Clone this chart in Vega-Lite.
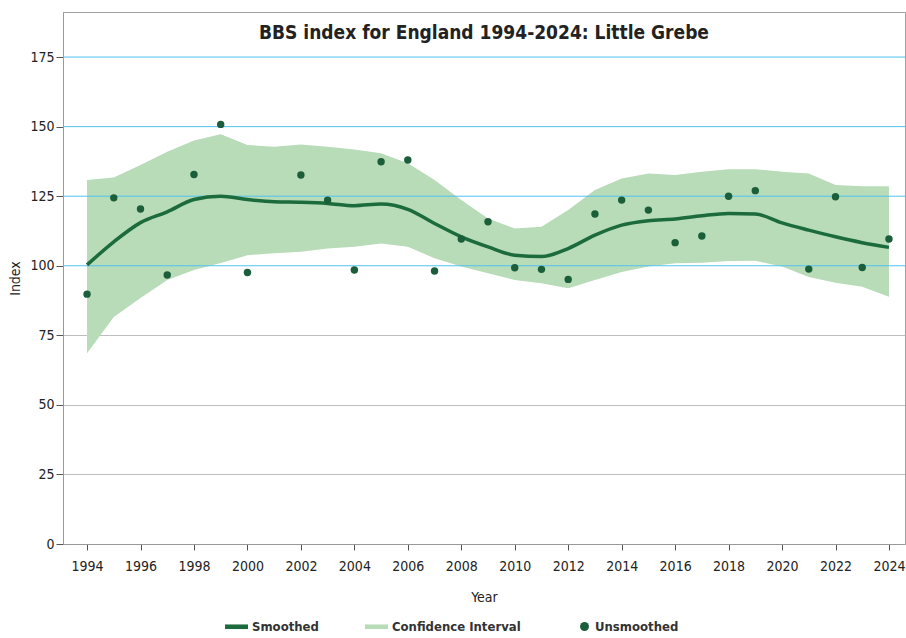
{
  "$schema": "https://vega.github.io/schema/vega-lite/v6.json",
  "width": 842,
  "height": 532,
  "autosize": {"type": "none"},
  "padding": {"left": 63, "top": 12, "right": 1, "bottom": 94},
  "background": "white",
  "title": {
    "text": "BBS index for England 1994-2024: Little Grebe",
    "offset": -31,
    "anchor": "middle",
    "font": "DejaVu Sans Condensed, DejaVu Sans",
    "fontSize": 19,
    "fontWeight": "bold",
    "color": "#222222"
  },
  "config": {
    "view": {"stroke": "#a0a0a0", "strokeWidth": 1},
    "font": "DejaVu Sans Condensed, DejaVu Sans",
    "axis": {
      "labelFont": "DejaVu Sans Condensed, DejaVu Sans",
      "titleFont": "DejaVu Sans Condensed, DejaVu Sans",
      "labelFontSize": 14,
      "titleFontSize": 14,
      "titleFontWeight": "normal",
      "labelColor": "#222222",
      "titleColor": "#222222",
      "domainColor": "#999999",
      "tickColor": "#555555"
    }
  },
  "resolve": {"axis": {"y": "independent"}},
  "datasets": {
    "bbs": [
      {"year": 1994, "index": 89.8, "smooth": 100.3, "lower": 68.6, "upper": 130.8},
      {"year": 1995, "index": 124.4, "smooth": 108.6, "lower": 81.6, "upper": 131.7},
      {"year": 1996, "index": 120.4, "smooth": 115.5, "lower": 88.4, "upper": 136.2},
      {"year": 1997, "index": 96.7, "smooth": 119.4, "lower": 94.9, "upper": 141.0},
      {"year": 1998, "index": 132.8, "smooth": 123.8, "lower": 98.5, "upper": 145.0},
      {"year": 1999, "index": 150.8, "smooth": 125.0, "lower": 101.0, "upper": 147.3},
      {"year": 2000, "index": 97.6, "smooth": 123.8, "lower": 103.8, "upper": 143.4},
      {"year": 2001, "index": null, "smooth": 123.0, "lower": 104.5, "upper": 142.8},
      {"year": 2002, "index": 132.6, "smooth": 122.8, "lower": 105.0, "upper": 143.6},
      {"year": 2003, "index": 123.6, "smooth": 122.4, "lower": 106.2, "upper": 142.8},
      {"year": 2004, "index": 98.5, "smooth": 121.6, "lower": 106.8, "upper": 141.8},
      {"year": 2005, "index": 137.4, "smooth": 122.2, "lower": 108.0, "upper": 140.4},
      {"year": 2006, "index": 138.0, "smooth": 120.3, "lower": 106.8, "upper": 136.8},
      {"year": 2007, "index": 98.1, "smooth": 115.2, "lower": 102.7, "upper": 130.8},
      {"year": 2008, "index": 109.6, "smooth": 110.4, "lower": 99.7, "upper": 123.6},
      {"year": 2009, "index": 115.8, "smooth": 106.8, "lower": 97.3, "upper": 117.0},
      {"year": 2010, "index": 99.3, "smooth": 103.8, "lower": 94.9, "upper": 113.4},
      {"year": 2011, "index": 98.7, "smooth": 103.3, "lower": 93.7, "upper": 114.0},
      {"year": 2012, "index": 95.1, "smooth": 106.2, "lower": 91.9, "upper": 120.0},
      {"year": 2013, "index": 118.6, "smooth": 111.0, "lower": 94.9, "upper": 127.2},
      {"year": 2014, "index": 123.6, "smooth": 114.6, "lower": 97.8, "upper": 131.4},
      {"year": 2015, "index": 120.0, "smooth": 116.2, "lower": 99.7, "upper": 133.2},
      {"year": 2016, "index": 108.3, "smooth": 116.8, "lower": 100.9, "upper": 132.6},
      {"year": 2017, "index": 110.7, "smooth": 118.0, "lower": 101.1, "upper": 133.8},
      {"year": 2018, "index": 125.0, "smooth": 118.8, "lower": 101.7, "upper": 134.7},
      {"year": 2019, "index": 127.0, "smooth": 118.6, "lower": 101.8, "upper": 134.7},
      {"year": 2020, "index": null, "smooth": 115.4, "lower": 99.7, "upper": 133.8},
      {"year": 2021, "index": 98.8, "smooth": 112.8, "lower": 96.0, "upper": 133.2},
      {"year": 2022, "index": 124.8, "smooth": 110.4, "lower": 93.9, "upper": 129.0},
      {"year": 2023, "index": 99.4, "smooth": 108.3, "lower": 92.5, "upper": 128.6},
      {"year": 2024, "index": 109.6, "smooth": 106.6, "lower": 88.9, "upper": 128.6}
    ],
    "gridlines": [
      {"level": 100},
      {"level": 125},
      {"level": 150},
      {"level": 175}
    ]
  },
  "data": {"name": "bbs"},
  "layer": [
    {
      "mark": {"type": "area", "opacity": 1},
      "encoding": {
        "x": {
          "field": "year",
          "type": "quantitative",
          "scale": {"domain": [1993.1, 2024.6], "nice": false, "zero": false},
          "axis": {
            "title": "Year",
            "values": [1994,1995,1996,1997,1998,1999,2000,2001,2002,2003,2004,2005,2006,2007,2008,2009,2010,2011,2012,2013,2014,2015,2016,2017,2018,2019,2020,2021,2022,2023,2024],
            "labelExpr": "datum.value % 2 == 0 ? format(datum.value, 'd') : ''",
            "grid": false,
            "tickSize": 6,
            "labelPadding": 9,
            "titlePadding": 17,
            "labelFlush": false,
            "labelOverlap": false
          }
        },
        "y": {
          "field": "lower",
          "type": "quantitative",
          "scale": {"domain": [0, 191.2], "nice": false},
          "axis": {
            "title": "Index",
            "orient": "left",
            "values": [0, 25, 50, 75, 100, 125, 150, 175],
            "grid": true,
            "gridColor": {"expr": "datum.value < 100 ? '#bdbdbd' : 'transparent'"},
            "gridOpacity": 1,
            "tickSize": 7,
            "labelPadding": 2,
            "titlePadding": 7
          }
        },
        "y2": {"field": "upper"},
        "color": {
          "datum": "Confidence Interval",
          "type": "nominal",
          "scale": {
            "domain": ["Smoothed", "Confidence Interval"],
            "range": ["#1c6b3c", "#b8dbb8"]
          },
          "legend": {
            "title": null,
            "orient": "none",
            "direction": "horizontal",
            "legendX": 162,
            "legendY": 603,
            "symbolType": "M-1,-0.2H1V0.2H-1Z",
            "symbolSize": 529,
            "symbolStrokeWidth": 0,
            "labelFont": "DejaVu Sans Condensed, DejaVu Sans",
            "labelFontSize": 13,
            "labelFontWeight": "bold",
            "labelColor": "#333333",
            "columnPadding": 46,
            "symbolOffset": 0,
            "labelOffset": 4,
            "encode": {
              "symbols": {
                "update": {
                  "fill": {"scale": "color", "field": "value"},
                  "stroke": {"value": "transparent"},
                  "opacity": {"value": 1},
                  "fillOpacity": {"value": 1}
                }
              }
            }
          }
        }
      }
    },
    {
      "data": {"name": "gridlines"},
      "mark": {"type": "rule", "color": "#4fc3f0", "strokeWidth": 1},
      "encoding": {
        "y": {"field": "level", "type": "quantitative", "axis": null}
      }
    },
    {
      "mark": {"type": "line", "strokeWidth": 3.5, "interpolate": "monotone"},
      "encoding": {
        "x": {"field": "year", "type": "quantitative"},
        "y": {"field": "smooth", "type": "quantitative", "axis": null},
        "color": {"datum": "Smoothed", "type": "nominal"}
      }
    },
    {
      "mark": {"type": "point", "filled": true, "size": 55, "opacity": 1, "color": "#1b5e3a"},
      "transform": [{"filter": "datum.index != null"}],
      "encoding": {
        "x": {"field": "year", "type": "quantitative"},
        "y": {"field": "index", "type": "quantitative", "axis": null},
        "shape": {
          "datum": "Unsmoothed",
          "type": "nominal",
          "scale": {"domain": ["Unsmoothed"], "range": ["circle"]},
          "legend": {
            "title": null,
            "orient": "none",
            "legendX": 515,
            "legendY": 608,
            "symbolSize": 80,
            "symbolFillColor": "#0d7a3c",
            "symbolStrokeColor": "#0d7a3c",
            "symbolOpacity": 1,
            "labelFont": "DejaVu Sans Condensed, DejaVu Sans",
            "labelFontSize": 13,
            "labelFontWeight": "bold",
            "labelColor": "#333333",
            "symbolOffset": 0,
            "labelOffset": 4
          }
        }
      }
    }
  ]
}
